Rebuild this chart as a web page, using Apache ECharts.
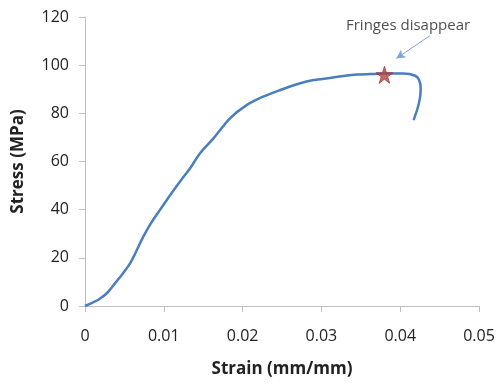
<!DOCTYPE html>
<html>
<head>
<meta charset="utf-8">
<script src="https://cdn.jsdelivr.net/npm/echarts@6/dist/echarts.min.js"></script>
<style>
html,body{margin:0;padding:0;background:#fff;}
#chart{width:498px;height:386px;}
</style>
</head>
<body>
<div id="chart"></div>
<script>
var strain = [0, 0.0009, 0.0017, 0.0028, 0.0038, 0.0048, 0.0057, 0.0064, 0.0074, 0.0085, 0.0095, 0.0108, 0.0122, 0.0133, 0.0146, 0.0163, 0.0184, 0.0205, 0.0226, 0.0247, 0.0269, 0.0290, 0.0311, 0.0330, 0.0345, 0.0362, 0.0380, 0.0404, 0.0419, 0.0424, 0.0426, 0.0425, 0.0422, 0.0417];
var stress = [0, 1.3, 2.6, 5.4, 9.4, 13.5, 17.6, 22.0, 28.8, 35.0, 39.8, 46.0, 52.3, 57.0, 63.4, 69.6, 77.9, 83.4, 86.9, 89.6, 92.1, 93.8, 94.7, 95.6, 96.1, 96.3, 96.5, 96.5, 95.6, 93.8, 90.3, 86.2, 82.0, 77.2];
var starPoint = [0.0380, 96.0];
var annotationText = 'Fringes disappear';
var annotationPos = [0.0410, 116.5];
var arrowFrom = [0.0438, 112.3];
var arrowTo = [0.0395, 102.8];
var xTitle = 'Strain (mm/mm)';
var yTitle = 'Stress (MPa)';

var curve = strain.map(function (s, i) { return [s, stress[i]]; });
var starPath = 'path://M50,0 L61.8,35.3 L99,35.3 L69,57.2 L80.4,92.7 L50,70.8 L19.6,92.7 L31,57.2 L1,35.3 L38.2,35.3 Z';
var font = 'Open Sans';

var chart = echarts.init(document.getElementById('chart'));
chart.setOption({
  animation: false,
  grid: { left: 85, right: 19, top: 17, bottom: 80 },
  xAxis: {
    type: 'value', min: 0, max: 0.05, interval: 0.01,
    name: xTitle, nameLocation: 'middle', nameGap: 55,
    nameTextStyle: { fontFamily: font, fontWeight: 'bold', fontSize: 17, color: '#222' },
    axisLine: { show: true, lineStyle: { color: '#BFBFBF', width: 1 } },
    axisTick: { show: true, length: 6, lineStyle: { color: '#BFBFBF' } },
    axisLabel: { fontFamily: font, fontSize: 16, color: '#222', margin: 22 },
    splitLine: { show: false }
  },
  yAxis: {
    type: 'value', min: 0, max: 120, interval: 20,
    name: yTitle, nameLocation: 'middle', nameGap: 58, nameRotate: 90,
    nameTextStyle: { fontFamily: font, fontWeight: 'bold', fontSize: 17, color: '#222' },
    axisLine: { show: true, lineStyle: { color: '#BFBFBF', width: 1 } },
    axisTick: { show: true, length: 6, lineStyle: { color: '#BFBFBF' } },
    axisLabel: { fontFamily: font, fontSize: 16, color: '#222', margin: 16 },
    splitLine: { show: false }
  },
  series: [
    {
      type: 'line',
      data: curve,
      showSymbol: false,
      smooth: 0.3,
      lineStyle: { color: '#4A7EBF', width: 2.5 },
      z: 2,
      markLine: {
        silent: true,
        symbol: ['none', 'arrow'],
        symbolSize: [7, 9],
        label: { show: false },
        lineStyle: { color: '#7FA4D6', width: 1, type: 'solid' },
        data: [[{ coord: arrowFrom }, { coord: arrowTo }]]
      }
    },
    {
      type: 'scatter',
      data: [starPoint],
      symbol: starPath,
      symbolSize: 17,
      itemStyle: { color: '#B5423F', borderColor: '#8A2E2C', borderWidth: 0.8 },
      z: 5
    },
    {
      type: 'scatter',
      data: [annotationPos],
      symbolSize: 0,
      label: {
        show: true, position: 'inside', formatter: annotationText,
        fontFamily: font, fontSize: 15, color: '#222'
      },
      z: 6
    }
  ]
});
</script>
</body>
</html>
